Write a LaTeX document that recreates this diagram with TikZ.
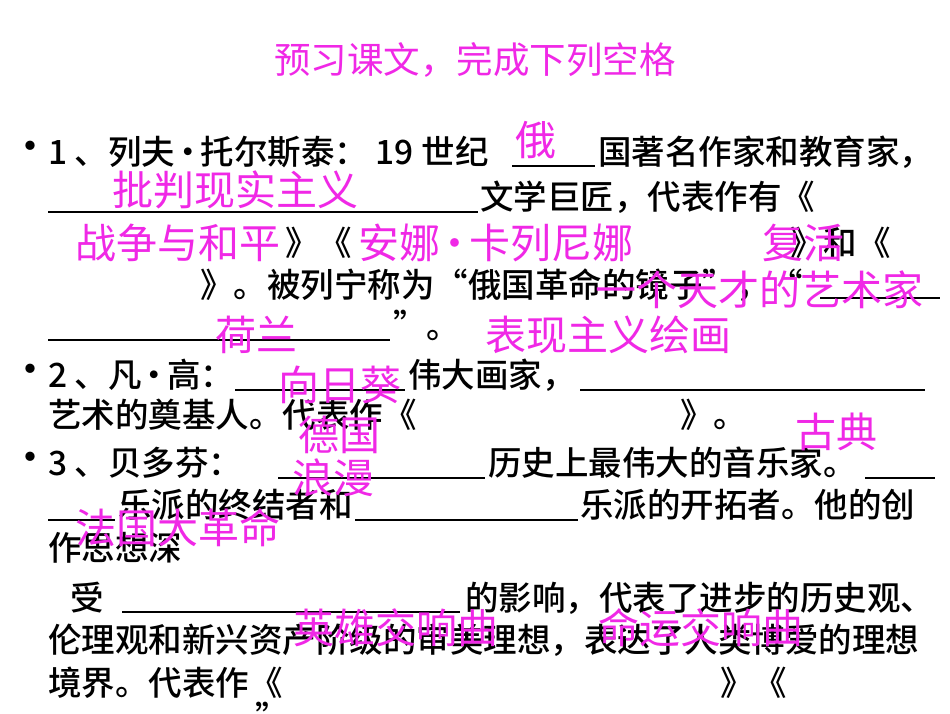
\documentclass[tikz,border=0pt]{standalone}
\usepackage{fontspec}
\setmainfont{Noto Sans CJK SC}
\newfontfamily\cjkb{Noto Sans CJK SC Medium}
\definecolor{mag}{RGB}{240,40,230}
\begin{document}
\begin{tikzpicture}[x=1pt,y=-1pt,
  blk/.style={anchor=west,inner sep=0,font=\fontsize{33.5}{34}\selectfont\cjkb,text=black},
  ans/.style={anchor=west,inner sep=0,font=\fontsize{41}{41}\selectfont,text=mag},
  ttl/.style={inner sep=0,font=\fontsize{36.5}{37}\selectfont,text=mag},
  blank/.style={line width=1.2pt,black}]
\useasboundingbox[fill=white] (0,0) rectangle (950,713);
\node[ttl] (title) at (475,60) {预习课文，完成下列空格};
% bullets
\foreach \y/\n in {152/b1,375/b2,463/b3}{\node[anchor=west,inner sep=0,font=\fontsize{44}{44}\selectfont] (\n) at (8,\y) {•};}
% line 1
\node[blk] (l1a) at (48,152) {1 、列夫{\kern-4pt}·{\kern-4pt}托尔斯泰： 19 世纪};
\coordinate (u1a) at (512,166); \coordinate (u1b) at (595,166); \draw[blank] (u1a)--(u1b);
\node[blk] (l1b) at (598,152) {国著名作家和教育家，};
% line 2
\coordinate (u2a) at (48,212); \coordinate (u2b) at (478,212); \draw[blank] (u2a)--(u2b);
\node[blk] (l2) at (480,197) {文学巨匠，代表作有《};
% line 3
\node[blk] (l3a) at (285,243) {》《};
\node[blk] (l3b) at (790,243) {》和《};
% line 4
\node[blk] (l4) at (200,285) {》。被列宁称为“俄国革命的镜子”，“};
\coordinate (u4a) at (820,298); \coordinate (u4b) at (940,298); \draw[blank] (u4a)--(u4b);
% line 5
\coordinate (u5a) at (48,340); \coordinate (u5b) at (390,340); \draw[blank] (u5a)--(u5b);
\node[blk] (l5) at (393,325) {”。};
% line 6
\node[blk] (l6a) at (48,375) {2 、凡{\kern-4pt}·{\kern-4pt}高：};
\coordinate (u6a) at (235,390); \coordinate (u6b) at (405,390); \draw[blank] (u6a)--(u6b);
\node[blk] (l6b) at (408,375) {伟大画家，};
\coordinate (u6c) at (580,390); \coordinate (u6d) at (925,390); \draw[blank] (u6c)--(u6d);
% line 7
\node[blk] (l7a) at (48,415) {艺术的奠基人。代表作《};
\node[blk] (l7b) at (680,415) {》。};
% line 8
\node[blk] (l8a) at (48,463) {3 、贝多芬：};
\coordinate (u8a) at (278,478); \coordinate (u8b) at (485,478); \draw[blank] (u8a)--(u8b);
\node[blk] (l8b) at (488,463) {历史上最伟大的音乐家。};
\coordinate (u8c) at (865,478); \coordinate (u8d) at (935,478); \draw[blank] (u8c)--(u8d);
% line 9
\coordinate (u9a) at (48,520); \coordinate (u9b) at (115,520); \draw[blank] (u9a)--(u9b);
\node[blk] (l9a) at (118,505) {乐派的终结者和};
\coordinate (u9c) at (355,520); \coordinate (u9d) at (578,520); \draw[blank] (u9c)--(u9d);
\node[blk] (l9b) at (580,505) {乐派的开拓者。他的创};
% line 10
\node[blk] (l10) at (48,548) {作思想深};
% line 11
\node[blk] (l11a) at (70,598) {受};
\coordinate (u11a) at (122,612); \coordinate (u11b) at (460,612); \draw[blank] (u11a)--(u11b);
\node[blk] (l11b) at (465,598) {的影响，代表了进步的历史观、};
% line 12
\node[blk] (l12) at (48,640) {伦理观和新兴资产阶级的审美理想，表达了人类博爱的理想};
% line 13
\node[blk] (l13a) at (48,683) {境界。代表作《};
\node[blk] (l13b) at (720,683) {》《};
\node[blk] (l14) at (255,716) {”};
% answers
\node[ans] (a1) at (515,140) {俄};
\node[ans] (a2) at (112,190) {批判现实主义};
\node[ans] (a3) at (75,243) {战争与和平};
\node[ans] (a4) at (358,243) {安娜{\kern-6pt}·{\kern-6pt}卡列尼娜};
\node[ans] (a5) at (762,243) {复活};
\node[ans] (a6) at (595,290) {一个天才的艺术家};
\node[ans] (a7) at (215,335) {荷兰};
\node[ans] (a8) at (485,335) {表现主义绘画};
\node[ans] (a9) at (278,385) {向日葵};
\node[ans] (a10) at (298,435) {德国};
\node[ans] (a11) at (795,432) {古典};
\node[ans] (a12) at (292,478) {浪漫};
\node[ans] (a13) at (75,528) {法国大革命};
\node[ans] (a14) at (293,628) {英雄交响曲};
\node[ans] (a15) at (598,628) {命运交响曲};
\end{tikzpicture}
\end{document}
